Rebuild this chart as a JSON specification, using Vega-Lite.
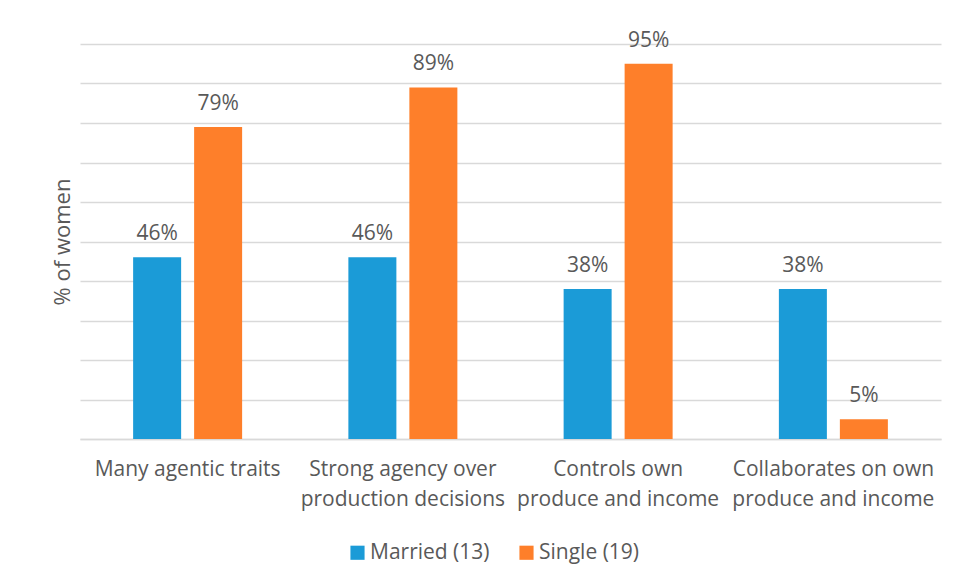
{
  "$schema": "https://vega.github.io/schema/vega-lite/v6.json",
  "width": 861,
  "height": 395,
  "autosize": {"type": "none"},
  "padding": {"left": 80, "top": 44, "right": 16, "bottom": 145},
  "background": "white",
  "config": {
    "view": {"stroke": null},
    "font": "Open Sans",
    "axis": {"labelFont": "Open Sans", "titleFont": "Open Sans"}
  },
  "data": {
    "values": [
      {"measure": "Many agentic traits", "group": "Married (13)", "share": 0.46},
      {"measure": "Many agentic traits", "group": "Single (19)", "share": 0.79},
      {"measure": "Strong agency over production decisions", "group": "Married (13)", "share": 0.46},
      {"measure": "Strong agency over production decisions", "group": "Single (19)", "share": 0.89},
      {"measure": "Controls own produce and income", "group": "Married (13)", "share": 0.38},
      {"measure": "Controls own produce and income", "group": "Single (19)", "share": 0.95},
      {"measure": "Collaborates on own produce and income", "group": "Married (13)", "share": 0.38},
      {"measure": "Collaborates on own produce and income", "group": "Single (19)", "share": 0.05}
    ]
  },
  "encoding": {
    "x": {
      "field": "measure",
      "type": "nominal",
      "sort": null,
      "scale": {"paddingInner": 0, "paddingOuter": 0},
      "axis": {
        "title": null,
        "labelAngle": 0,
        "labelFontSize": 21,
        "labelColor": "#595959",
        "labelPadding": 30,
        "labelLineHeight": 30,
        "labelBaseline": "middle",
        "labelLimit": 400,
        "ticks": false,
        "domainColor": "#d9d9d9",
        "domainWidth": 1.5,
        "labelExpr": "datum.value == 'Strong agency over production decisions' ? ['Strong agency over', 'production decisions'] : datum.value == 'Controls own produce and income' ? ['Controls own', 'produce and income'] : datum.value == 'Collaborates on own produce and income' ? ['Collaborates on own', 'produce and income'] : datum.value"
      }
    },
    "xOffset": {
      "field": "group",
      "type": "nominal",
      "scale": {"paddingInner": 0.213, "paddingOuter": 0.871}
    },
    "y": {
      "field": "share",
      "type": "quantitative",
      "scale": {"domain": [0, 1]},
      "axis": {
        "title": "% of women",
        "titleFontSize": 22,
        "titleFontWeight": "normal",
        "titleColor": "#595959",
        "titlePadding": 6,
        "labels": false,
        "ticks": false,
        "domain": false,
        "values": [0, 0.1, 0.2, 0.3, 0.4, 0.5, 0.6, 0.7, 0.8, 0.9, 1],
        "gridColor": "#d9d9d9",
        "gridWidth": 1.5
      }
    }
  },
  "layer": [
    {
      "mark": {"type": "bar"},
      "encoding": {
        "color": {
          "field": "group",
          "type": "nominal",
          "scale": {"domain": ["Married (13)", "Single (19)"], "range": ["#1b9bd7", "#fe7f2a"]},
          "legend": {
            "title": null,
            "orient": "none",
            "direction": "horizontal",
            "legendX": 267,
            "legendY": 498,
            "symbolType": "square",
            "symbolSize": 200,
            "symbolStrokeWidth": 0,
            "labelFontSize": 21,
            "labelColor": "#595959",
            "labelFont": "Open Sans",
            "labelLimit": 300,
            "columnPadding": 26,
            "labelOffset": 2
          }
        }
      }
    },
    {
      "mark": {"type": "text", "baseline": "bottom", "dy": -13, "fontSize": 21, "color": "#595959"},
      "encoding": {
        "text": {"field": "share", "type": "quantitative", "format": ".0%"},
        "detail": {"field": "group"}
      }
    }
  ]
}
